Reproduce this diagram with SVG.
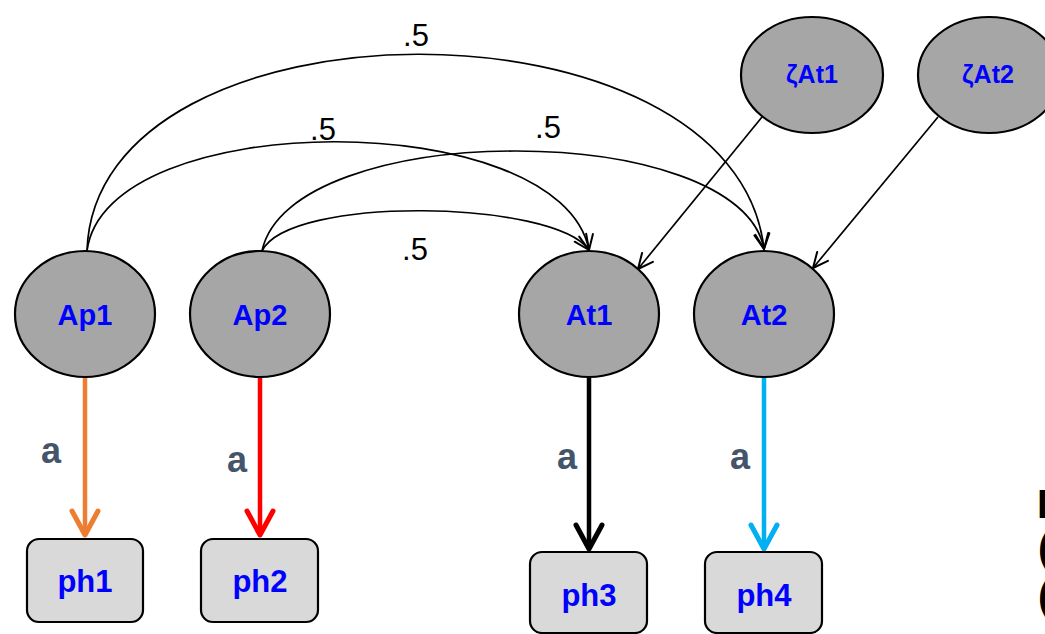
<svg xmlns="http://www.w3.org/2000/svg" width="1045" height="634" viewBox="0 0 1045 634">
<style>
.lat{fill:#A6A6A6;stroke:#000;stroke-width:2.2}
.box{fill:#D9D9D9;stroke:#000;stroke-width:2.2}
.nt{font-family:"Liberation Sans",Arial,sans-serif;font-weight:bold;fill:#0000FF;text-anchor:middle}
.thin{fill:none;stroke:#000;stroke-width:1.7}
.thick{fill:none;stroke-width:4.5}
.lbl{font-family:"Liberation Sans",Arial,sans-serif;font-size:31px;fill:#000;text-anchor:middle}
.a{font-family:"Liberation Sans",Arial,sans-serif;font-weight:bold;font-size:36px;fill:#44546A;text-anchor:middle}
.cut{font-family:"Liberation Sans",Arial,sans-serif;font-weight:bold;font-size:40px;fill:#000}
</style>
<defs>
<marker id="mThin" markerUnits="userSpaceOnUse" markerWidth="30" markerHeight="30" refX="0" refY="0" viewBox="-20 -15 30 30" orient="auto" overflow="visible">
<path d="M-15,-7 L0,0 L-15,7" fill="none" stroke="#000" stroke-width="2" stroke-linecap="round" stroke-linejoin="round"/>
</marker>
<marker id="mOr" markerUnits="userSpaceOnUse" markerWidth="40" markerHeight="40" refX="0" refY="0" viewBox="-30 -20 40 40" orient="auto" overflow="visible">
<path d="M-24,-13 L0,0 L-24,13" fill="none" stroke="#ED7D31" stroke-width="5" stroke-linecap="round" stroke-linejoin="round"/>
</marker>
<marker id="mRd" markerUnits="userSpaceOnUse" markerWidth="40" markerHeight="40" refX="0" refY="0" viewBox="-30 -20 40 40" orient="auto" overflow="visible">
<path d="M-24,-13 L0,0 L-24,13" fill="none" stroke="#FF0000" stroke-width="5" stroke-linecap="round" stroke-linejoin="round"/>
</marker>
<marker id="mBk" markerUnits="userSpaceOnUse" markerWidth="40" markerHeight="40" refX="0" refY="0" viewBox="-30 -20 40 40" orient="auto" overflow="visible">
<path d="M-24,-13 L0,0 L-24,13" fill="none" stroke="#000000" stroke-width="5" stroke-linecap="round" stroke-linejoin="round"/>
</marker>
<marker id="mCy" markerUnits="userSpaceOnUse" markerWidth="40" markerHeight="40" refX="0" refY="0" viewBox="-30 -20 40 40" orient="auto" overflow="visible">
<path d="M-24,-13 L0,0 L-24,13" fill="none" stroke="#00B0F0" stroke-width="5" stroke-linecap="round" stroke-linejoin="round"/>
</marker>
</defs>
<rect width="1045" height="634" fill="#FFFFFF"/>

<g id="connectors">
<path class="thin" d="M87,251 C95,-10 735,-12 764,249" marker-end="url(#mThin)"/>
<path class="thin" d="M87,251 C105,106 560,105 589,250" marker-end="url(#mThin)"/>
<path class="thin" d="M262,251 C290,118 740,118 764,249" marker-end="url(#mThin)"/>
<path class="thin" d="M262,251 C290,195 554,200 589,250" marker-end="url(#mThin)"/>
<path class="thin" d="M762,117 L638,269" marker-end="url(#mThin)"/>
<path class="thin" d="M938,117 L813,268" marker-end="url(#mThin)"/>
<path class="thick" stroke="#ED7D31" d="M85,377 L85,535" marker-end="url(#mOr)"/>
<path class="thick" stroke="#FF0000" d="M260,377 L260,535" marker-end="url(#mRd)"/>
<path class="thick" stroke="#000000" d="M589,377 L589,549" marker-end="url(#mBk)"/>
<path class="thick" stroke="#00B0F0" d="M764,377 L764,549" marker-end="url(#mCy)"/>
<text class="lbl" x="416" y="46">.5</text>
<text class="lbl" x="323" y="140">.5</text>
<text class="lbl" x="548" y="138">.5</text>
<text class="lbl" x="415" y="260">.5</text>
<text class="a" x="51" y="463">a</text>
<text class="a" x="237" y="472">a</text>
<text class="a" x="567" y="469">a</text>
<text class="a" x="740" y="469">a</text>
</g>

<g id="Ap1"><ellipse class="lat" cx="85" cy="314" rx="70" ry="63"/><text class="nt" x="85" y="325" font-size="29">Ap1</text></g>
<g id="Ap2"><ellipse class="lat" cx="260" cy="314" rx="70" ry="63"/><text class="nt" x="260" y="325" font-size="29">Ap2</text></g>
<g id="At1"><ellipse class="lat" cx="589" cy="314" rx="70" ry="63"/><text class="nt" x="589" y="325" font-size="29">At1</text></g>
<g id="At2"><ellipse class="lat" cx="764" cy="314" rx="70" ry="63"/><text class="nt" x="764" y="325" font-size="29">At2</text></g>
<g id="zAt1"><ellipse class="lat" cx="812" cy="75" rx="71" ry="58"/><text class="nt" x="812" y="83" font-size="25">ζAt1</text></g>
<g id="zAt2"><ellipse class="lat" cx="989" cy="75" rx="71" ry="58"/><text class="nt" x="988" y="83" font-size="25">ζAt2</text></g>

<g id="ph1"><rect class="box" x="27" y="539" width="116" height="83" rx="12"/><text class="nt" x="85" y="592" font-size="31">ph1</text></g>
<g id="ph2"><rect class="box" x="201" y="539" width="117" height="83" rx="12"/><text class="nt" x="260" y="592" font-size="31">ph2</text></g>
<g id="ph3"><rect class="box" x="530" y="552" width="117" height="81" rx="12"/><text class="nt" x="589" y="606" font-size="31">ph3</text></g>
<g id="ph4"><rect class="box" x="705" y="552" width="117" height="81" rx="12"/><text class="nt" x="764" y="606" font-size="31">ph4</text></g>

<g id="cut-text">
<text class="cut" x="1037" y="518">I</text>
<text class="cut" x="1038" y="562">(</text>
<text class="cut" x="1038" y="610">(</text>
</g>
</svg>
